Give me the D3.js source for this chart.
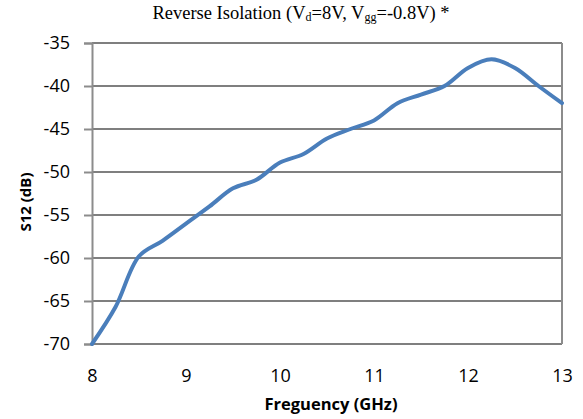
<!DOCTYPE html>
<html>
<head>
<meta charset="utf-8">
<script src="https://cdn.jsdelivr.net/npm/d3@7"></script>
<style>
  body { margin: 0; background: #fff; }
  svg { display: block; }
</style>
</head>
<body>
<svg id="chart" width="583" height="419"></svg>
<script>
// frequency in GHz, S12 in dB
let freq = [8.0, 8.25, 8.5, 8.75, 9.0, 9.25, 9.5, 9.75, 10.0, 10.25, 10.5, 10.75,
            11.0, 11.25, 11.5, 11.75, 12.0, 12.25, 12.5, 12.75, 13.0];
let s12 = [-70, -65.7, -59.8, -58.0, -56.0, -54.0, -51.9, -50.9, -48.9, -47.9, -46.1, -45.0,
           -44.0, -42.0, -41.0, -40.0, -37.9, -36.9, -37.9, -40.0, -42.0];
let xTicks = [8, 9, 10, 11, 12, 13];
let yTicks = [-70, -65, -60, -55, -50, -45, -40, -35];

let chart = d3.select("#chart");
let plotLeft = 92, plotRight = 562, plotTop = 43, plotBottom = 344;

let x = d3.scaleLinear().domain([8, 13]).range([plotLeft, plotRight]);
let y = d3.scaleLinear().domain([-70, -35]).range([plotBottom, plotTop]);

// horizontal grid lines
chart.append("g")
    .selectAll("line")
    .data(yTicks)
    .enter()
    .append("line")
    .attr("x1", plotLeft)
    .attr("x2", plotRight)
    .attr("y1", d => y(d))
    .attr("y2", d => y(d))
    .attr("stroke", "#7f7f7f")
    .attr("stroke-width", 2);

// right border
chart.append("line")
    .attr("x1", plotRight).attr("x2", plotRight)
    .attr("y1", plotTop).attr("y2", plotBottom)
    .attr("stroke", "#8c8c8c")
    .attr("stroke-width", 2);

// y axis
let yAxis = d3.axisLeft(y).tickValues(yTicks).tickSize(8).tickPadding(14)
    .tickFormat(d => String(d));
let yAxisGroup = chart.append("g")
    .attr("transform", "translate(" + plotLeft + ",0)")
    .call(yAxis);
yAxisGroup.select(".domain").attr("stroke", "#8c8c8c").attr("stroke-width", 2);
yAxisGroup.selectAll(".tick line").attr("stroke", "#8c8c8c").attr("stroke-width", 2);
yAxisGroup.selectAll(".tick text")
    .style("font-family", "'Open Sans', 'Liberation Sans', sans-serif")
    .style("font-size", "18px")
    .attr("fill", "#000");

// x axis (labels only)
let xAxis = d3.axisBottom(x).tickValues(xTicks).tickSize(0).tickPadding(25)
    .tickFormat(d => String(d));
let xAxisGroup = chart.append("g")
    .attr("transform", "translate(0," + plotBottom + ")")
    .call(xAxis);
xAxisGroup.select(".domain").remove();
xAxisGroup.selectAll(".tick text")
    .style("font-family", "'Open Sans', 'Liberation Sans', sans-serif")
    .style("font-size", "18px")
    .attr("fill", "#000");

// curve
let line = d3.line()
    .x((d, i) => x(freq[i]))
    .y(d => y(d))
    .curve(d3.curveCatmullRom.alpha(0.5));

chart.append("path")
    .datum(s12)
    .attr("d", line)
    .attr("fill", "none")
    .attr("stroke", "#4a7ebb")
    .attr("stroke-width", 4)
    .attr("stroke-linecap", "round");

// title with subscripts
let title = chart.append("text")
    .attr("x", 301)
    .attr("y", 19)
    .attr("text-anchor", "middle")
    .style("font-family", "'Liberation Serif', 'Times New Roman', serif")
    .style("font-size", "18.5px")
    .attr("fill", "#000");
title.append("tspan").text("Reverse Isolation (V");
title.append("tspan").text("d").style("font-size", "12px").attr("dy", 2);
title.append("tspan").text("=8V, V").attr("dy", -2);
title.append("tspan").text("gg").style("font-size", "12px").attr("dy", 2);
title.append("tspan").text("=-0.8V) *").attr("dy", -2);

// axis titles
chart.append("text")
    .text("S12 (dB)")
    .attr("transform", "translate(31,202) rotate(-90)")
    .attr("text-anchor", "middle")
    .style("font-family", "'Open Sans', 'Liberation Sans', sans-serif")
    .style("font-size", "15px")
    .attr("font-weight", "bold")
    .attr("fill", "#000");

chart.append("text")
    .text("Freguency (GHz)")
    .attr("x", 331)
    .attr("y", 410)
    .attr("text-anchor", "middle")
    .style("font-family", "'Open Sans', 'Liberation Sans', sans-serif")
    .style("font-size", "16.5px")
    .attr("font-weight", "bold")
    .attr("fill", "#000");
</script>
</body>
</html>
